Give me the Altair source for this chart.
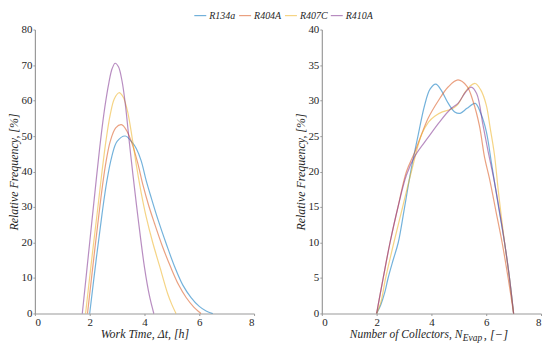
import altair as alt
import pandas as pd

series = ["R134a", "R404A", "R407C", "R410A"]
colors = ["#0072BD", "#D95319", "#EDB120", "#7E2F8E"]

# ---- Left panel: Work Time distribution ----
wt_R134a_x = [2.0, 2.25, 2.45, 2.62, 2.8, 3.0, 3.3, 3.55, 3.7, 3.88, 4.06, 4.25, 4.49, 4.8, 5.09, 5.4, 5.7, 6.0, 6.25, 6.49]
wt_R134a_y = [0, 16, 28, 37, 44, 48.5, 50, 48.2, 46.5, 43, 37.5, 32.5, 26.5, 19.5, 13.4, 8, 4.5, 2, 0.7, 0]
wt_R404A_x = [1.92, 2.2, 2.4, 2.58, 2.75, 2.95, 3.16, 3.35, 3.55, 3.75, 3.95, 4.15, 4.36, 4.65, 4.97, 5.25, 5.52, 5.8, 6.06]
wt_R404A_y = [0, 19, 32, 42, 48.5, 52.3, 53.2, 51.5, 47.8, 42.5, 36, 30.5, 25.5, 19, 12.8, 8, 4.5, 1.8, 0]
wt_R407C_x = [1.85, 2.1, 2.3, 2.45, 2.6, 2.75, 2.9, 3.07, 3.22, 3.38, 3.55, 3.72, 3.88, 4.06, 4.3, 4.55, 4.85, 5.0, 5.15]
wt_R407C_y = [0, 17, 30, 40, 49, 56, 60.5, 62.2, 61, 57, 49.5, 41, 34, 27.3, 20, 13.4, 5.5, 2.5, 0]
wt_R410A_x = [1.73, 2.0, 2.25, 2.4, 2.55, 2.7, 2.82, 2.93, 3.05, 3.18, 3.3, 3.45, 3.58, 3.78, 4.0, 4.18, 4.34]
wt_R410A_y = [0, 20, 38.5, 49, 58, 65, 69, 70.5, 69.5, 65.5, 59, 48, 39, 26, 13, 5, 0]

# ---- Right panel: Number of collectors distribution ----
nc_R134a_x = [2.0, 2.15, 2.3, 2.42, 2.6, 2.79, 3.0, 3.27, 3.52, 3.75, 3.95, 4.16, 4.35, 4.6, 4.85, 5.05, 5.3, 5.6, 5.8, 6.0, 6.2, 6.45, 6.67, 6.85, 7.0]
nc_R134a_y = [0, 1.2, 3, 5, 7.5, 10, 14.5, 20.5, 25.2, 29.3, 31.6, 32.3, 31.5, 29.7, 28.4, 28.2, 28.9, 29.6, 28.2, 25.7, 21, 15, 10, 5, 0]
nc_R404A_x = [2.0, 2.24, 2.49, 2.78, 3.09, 3.4, 3.88, 4.24, 4.61, 4.97, 5.3, 5.52, 5.75, 5.94, 6.12, 6.35, 6.58, 6.8, 7.0]
nc_R404A_y = [0, 5, 10, 15, 20, 22.8, 27.5, 29.9, 31.9, 32.9, 32, 29.9, 26.5, 22, 19, 14.5, 10, 5, 0]
nc_R407C_x = [2.0, 2.15, 2.33, 2.63, 2.95, 3.27, 3.64, 3.9, 4.12, 4.4, 4.73, 4.95, 5.2, 5.4, 5.6, 5.8, 6.0, 6.15, 6.3, 6.45, 6.67, 6.85, 7.0]
nc_R407C_y = [0, 1.5, 5, 10, 15, 20, 25.2, 27, 27.8, 28.4, 28.8, 29.4, 31, 32, 32.4, 31.5, 29.4, 26, 22.4, 17, 10, 5, 0]
nc_R410A_x = [2.0, 2.24, 2.49, 2.78, 3.09, 3.4, 3.88, 4.3, 4.7, 4.97, 5.25, 5.45, 5.65, 5.88, 6.06, 6.3, 6.67, 6.85, 7.0]
nc_R410A_y = [0, 5, 10, 15, 19.5, 22.2, 24.8, 27, 28.8, 29.6, 31.2, 31.9, 31, 26.6, 23, 18.5, 10, 5, 0]

x_ticks = [0, 2, 4, 6, 8]
left_y_ticks = [0, 10, 20, 30, 40, 50, 60, 70, 80]
right_y_ticks = [0, 5, 10, 15, 20, 25, 30, 35, 40]


def long_frame(pairs):
    rows = []
    for name, xs, ys in pairs:
        for i, (a, b) in enumerate(zip(xs, ys)):
            rows.append({"ref": name, "x": a, "y": b, "i": i})
    return pd.DataFrame(rows)


df_left = long_frame([
    ("R134a", wt_R134a_x, wt_R134a_y),
    ("R404A", wt_R404A_x, wt_R404A_y),
    ("R407C", wt_R407C_x, wt_R407C_y),
    ("R410A", wt_R410A_x, wt_R410A_y),
])
df_right = long_frame([
    ("R134a", nc_R134a_x, nc_R134a_y),
    ("R404A", nc_R404A_x, nc_R404A_y),
    ("R407C", nc_R407C_x, nc_R407C_y),
    ("R410A", nc_R410A_x, nc_R410A_y),
])

FONT = "Liberation Serif, DejaVu Serif, serif"
W, H = 220, 285
OP = 0.55

color_enc = alt.Color(
    "ref:N",
    scale=alt.Scale(domain=series, range=colors),
    legend=alt.Legend(
        title=None,
        orient="none",
        direction="horizontal",
        legendX=159,
        legendY=-21,
        symbolType="stroke",
        symbolSize=144,
        symbolStrokeWidth=1.2,
        symbolOpacity=OP,
        labelFont=FONT,
        labelFontStyle="italic",
        labelFontSize=10,
        labelColor="#262626",
        labelOffset=2,
        columnPadding=0,
    ),
)

line_kw = dict(interpolate="catmull-rom", strokeWidth=1.2, opacity=OP)

left = alt.Chart(df_left).mark_line(**line_kw).encode(
    x=alt.X("x:Q", scale=alt.Scale(domain=[0, 8]),
            axis=alt.Axis(values=x_ticks, title="Work Time, Δt, [h]", titlePadding=1)),
    y=alt.Y("y:Q", scale=alt.Scale(domain=[0, 80]),
            axis=alt.Axis(values=left_y_ticks, title="Relative Frequency, [%]")),
    color=color_enc,
    order="i:Q",
).properties(width=W, height=H)

right_lines = alt.Chart(df_right).mark_line(**line_kw).encode(
    x=alt.X("x:Q", scale=alt.Scale(domain=[0, 8]),
            axis=alt.Axis(values=x_ticks, title=None)),
    y=alt.Y("y:Q", scale=alt.Scale(domain=[0, 40]),
            axis=alt.Axis(values=right_y_ticks, title="Relative Frequency, [%]")),
    color=color_enc,
    order="i:Q",
)

one = pd.DataFrame({"a": [0]})
title_y = H + 22
t1 = alt.Chart(one).mark_text(
    text="Number of Collectors, N", font=FONT, fontStyle="italic", fontSize=11.5,
    align="right", baseline="middle", color="#262626"
).encode(x=alt.value(141), y=alt.value(title_y))
t2 = alt.Chart(one).mark_text(
    text="Evap", font=FONT, fontStyle="italic", fontSize=9.5,
    align="left", baseline="middle", color="#262626"
).encode(x=alt.value(141.5), y=alt.value(title_y + 2.5))
t3 = alt.Chart(one).mark_text(
    text=", [−]", font=FONT, fontStyle="italic", fontSize=12.5,
    align="left", baseline="middle", color="#262626"
).encode(x=alt.value(162.5), y=alt.value(title_y))

right = alt.layer(right_lines, t1, t2, t3).properties(width=W, height=H)

chart = alt.hconcat(left, right, spacing=40).properties(
    padding={"left": 0, "top": 0, "right": 0, "bottom": 0}
).configure_view(stroke=None).configure_axis(
    grid=False,
    labelFont=FONT,
    labelFontSize=11,
    labelColor="#262626",
    titleFont=FONT,
    titleFontSize=12,
    titleFontStyle="italic",
    titleFontWeight="normal",
    titleColor="#262626",
    domainColor="#9a9a9a",
    domainWidth=1.2,
    tickColor="#9a9a9a",
    tickSize=2,
    labelPadding=1,
    titlePadding=0,
)

chart.save("out.html", embed_options={"renderer": "svg", "actions": False})
